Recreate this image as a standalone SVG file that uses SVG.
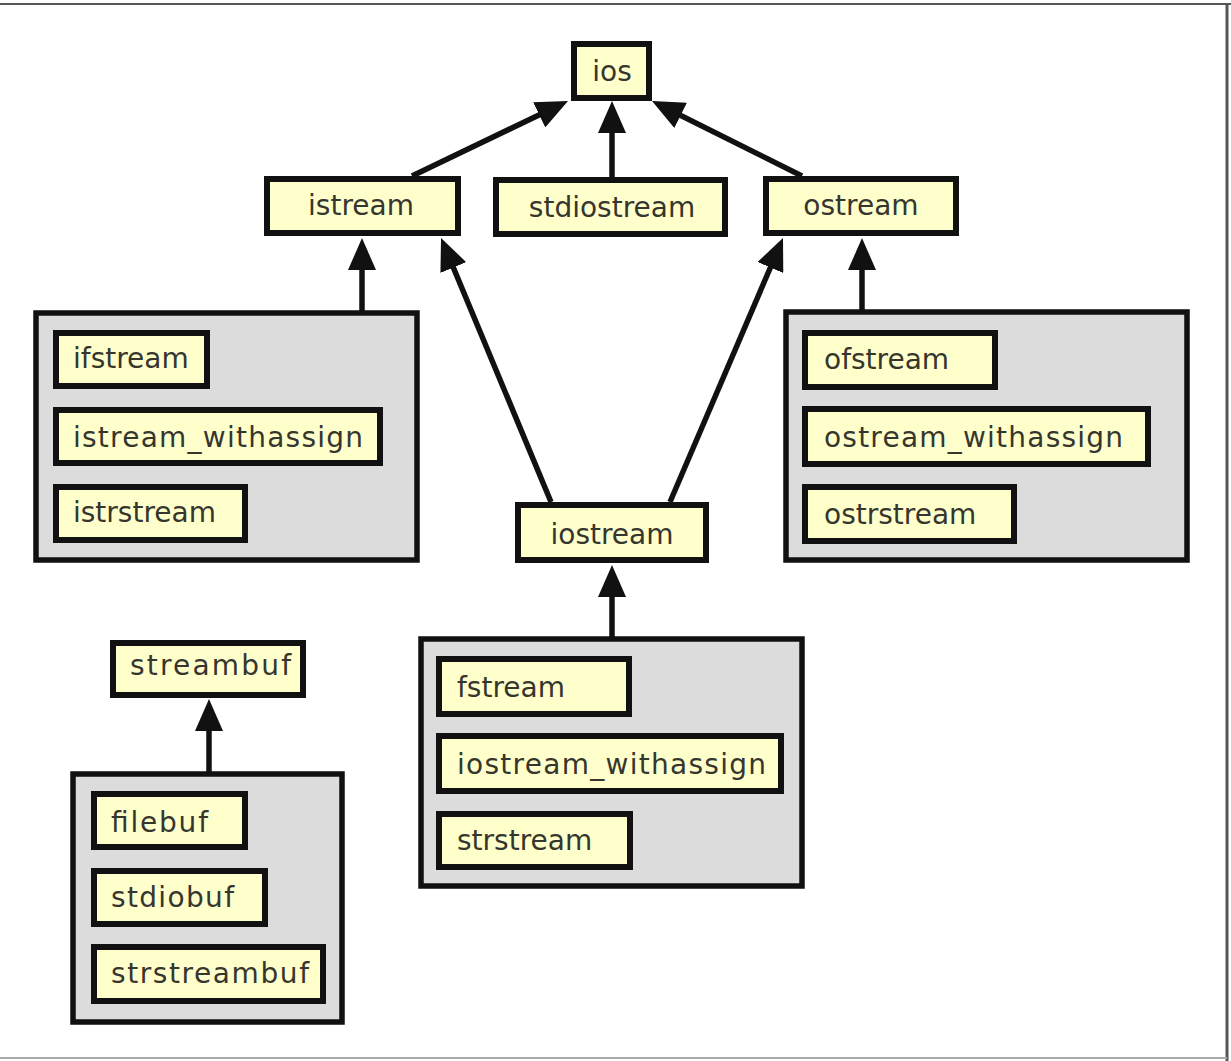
<svg xmlns="http://www.w3.org/2000/svg" width="1231" height="1061" viewBox="0 0 1231 1061">
<style>
.n rect{fill:#ffffcc;stroke:#111;stroke-width:6}
.g rect{fill:#dcdcdc;stroke:#111;stroke-width:5.5}
text{font-family:"DejaVu Sans","Liberation Sans",sans-serif;font-size:28px;fill:#36362e}
.c{text-anchor:middle}
#edges line{stroke:#111;stroke-width:5.5}
</style>
<defs>
<marker id="ah" markerUnits="userSpaceOnUse" viewBox="0 0 32 28" refX="16" refY="14" markerWidth="32" markerHeight="28" orient="auto">
<path d="M0,0 L32,14 L0,28 Z" fill="#111"/>
</marker>
</defs>
<rect width="1231" height="1061" fill="#fff"/>
<line x1="0" y1="4" x2="1231" y2="4" stroke="#555" stroke-width="2"/>
<line x1="1227" y1="4" x2="1227" y2="1061" stroke="#555" stroke-width="3"/>
<line x1="0" y1="1058" x2="1227" y2="1058" stroke="#aaa" stroke-width="2"/>

<g id="grp-istream-derived" class="g"><rect x="36" y="313" width="381" height="247"/></g>
<g id="grp-ostream-derived" class="g"><rect x="786" y="312" width="401" height="248"/></g>
<g id="grp-iostream-derived" class="g"><rect x="421" y="639" width="381" height="247"/></g>
<g id="grp-streambuf-derived" class="g"><rect x="73" y="774" width="269" height="248"/></g>

<g id="edges">
<line x1="412" y1="176" x2="553.6" y2="107.9" marker-end="url(#ah)"/>
<line x1="612" y1="177" x2="612" y2="117" marker-end="url(#ah)"/>
<line x1="802" y1="176" x2="666.3" y2="108.2" marker-end="url(#ah)"/>
<line x1="362" y1="311" x2="362" y2="254" marker-end="url(#ah)"/>
<line x1="551" y1="502" x2="447.2" y2="252.8" marker-end="url(#ah)"/>
<line x1="670" y1="502" x2="776.7" y2="252.8" marker-end="url(#ah)"/>
<line x1="862" y1="310" x2="862" y2="254" marker-end="url(#ah)"/>
<line x1="612" y1="637" x2="612" y2="581" marker-end="url(#ah)"/>
<line x1="209" y1="772" x2="209" y2="715" marker-end="url(#ah)"/>
</g>

<g id="ios" class="n"><rect x="574" y="44" width="75" height="54"/><text class="c" x="612" y="81">ios</text></g>
<g id="istream" class="n"><rect x="267" y="179" width="191" height="54"/><text class="c" x="361" y="215">istream</text></g>
<g id="stdiostream" class="n"><rect x="496" y="180" width="229" height="54"/><text class="c" x="612" y="217">stdiostream</text></g>
<g id="ostream" class="n"><rect x="766" y="179" width="190" height="54"/><text class="c" x="861" y="215">ostream</text></g>

<g id="ifstream" class="n"><rect x="56" y="333" width="151" height="53"/><text x="73" y="368">ifstream</text></g>
<g id="istream_withassign" class="n"><rect x="56" y="410" width="324" height="53"/><text x="73" y="447" textLength="290">istream_withassign</text></g>
<g id="istrstream" class="n"><rect x="56" y="487" width="189" height="53"/><text x="73" y="522">istrstream</text></g>

<g id="iostream" class="n"><rect x="518" y="505" width="188" height="55"/><text class="c" x="612" y="544">iostream</text></g>

<g id="ofstream" class="n"><rect x="805" y="333" width="190" height="54"/><text x="824" y="369">ofstream</text></g>
<g id="ostream_withassign" class="n"><rect x="805" y="409" width="343" height="55"/><text x="824" y="447" textLength="299">ostream_withassign</text></g>
<g id="ostrstream" class="n"><rect x="805" y="487" width="209" height="54"/><text x="824" y="524">ostrstream</text></g>

<g id="streambuf" class="n"><rect x="113" y="643" width="190" height="52"/><text x="130" y="675" textLength="161">streambuf</text></g>
<g id="filebuf" class="n"><rect x="94" y="794" width="151" height="53"/><text x="111" y="832" textLength="97">filebuf</text></g>
<g id="stdiobuf" class="n"><rect x="94" y="871" width="171" height="53"/><text x="111" y="907" textLength="123">stdiobuf</text></g>
<g id="strstreambuf" class="n"><rect x="94" y="947" width="229" height="54"/><text x="111" y="983" textLength="198">strstreambuf</text></g>

<g id="fstream" class="n"><rect x="439" y="659" width="190" height="55"/><text x="457" y="697">fstream</text></g>
<g id="iostream_withassign" class="n"><rect x="439" y="736" width="342" height="55"/><text x="457" y="774" textLength="309">iostream_withassign</text></g>
<g id="strstream" class="n"><rect x="439" y="814" width="191" height="53"/><text x="457" y="850">strstream</text></g>
</svg>
